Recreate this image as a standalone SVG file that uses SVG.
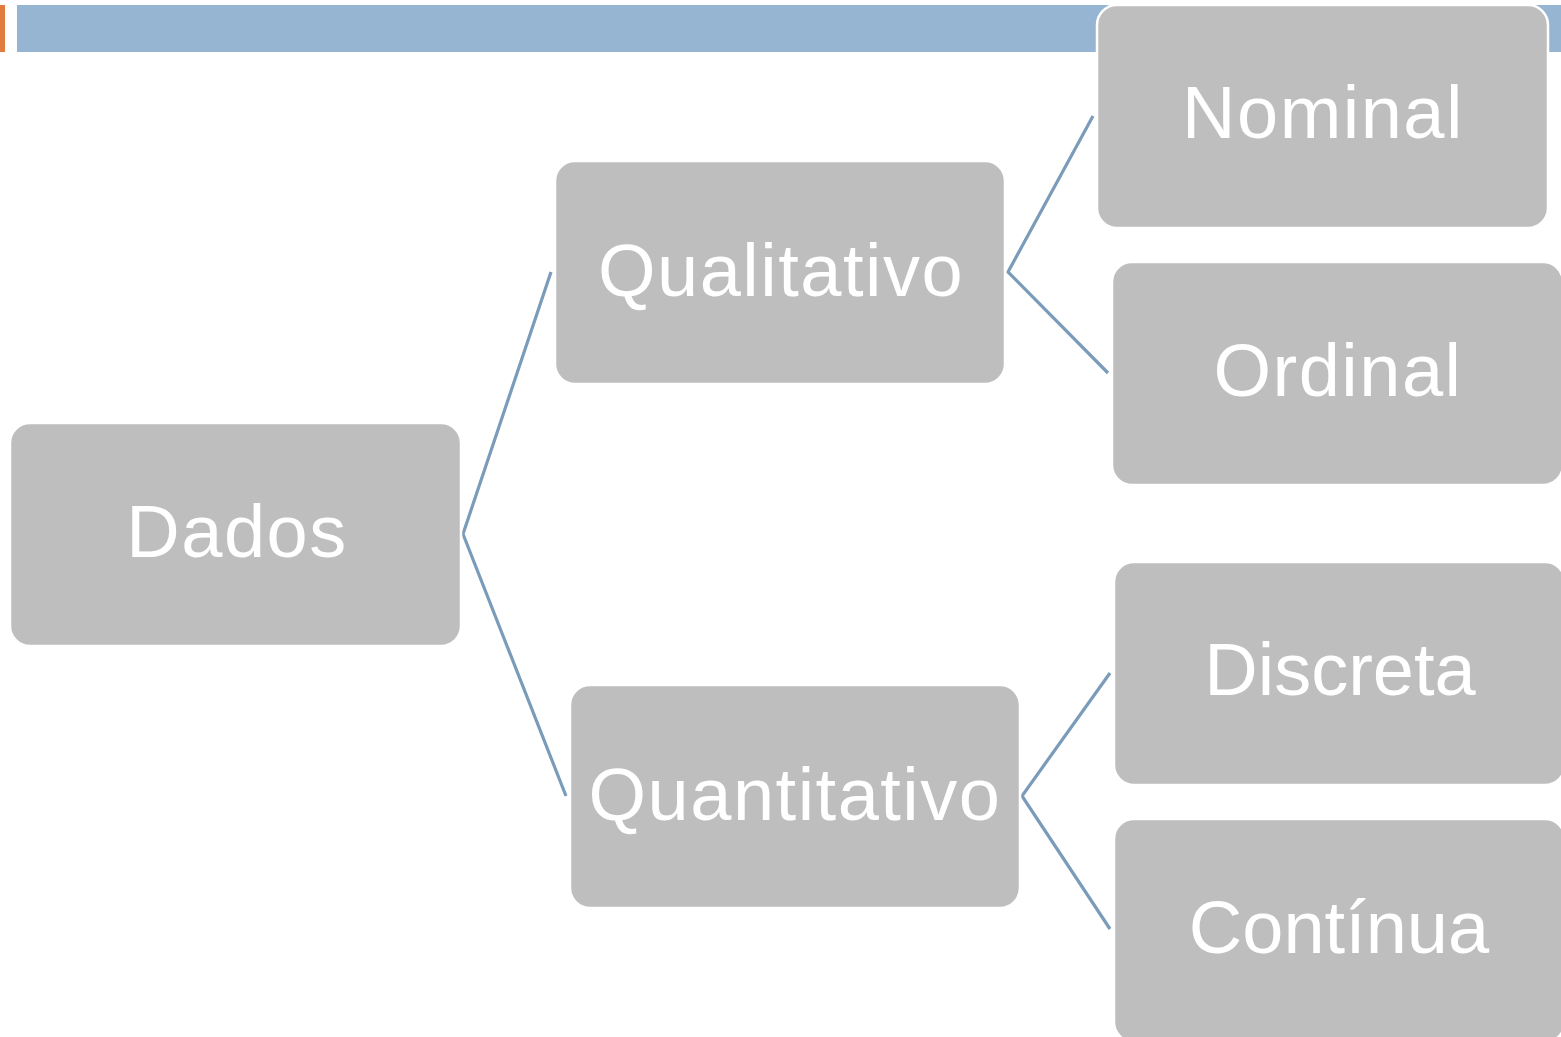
<svg xmlns="http://www.w3.org/2000/svg" width="1561" height="1037" viewBox="0 0 1561 1037">
<style>
.box{fill:#bebebe;stroke:#ffffff;stroke-width:2.5}
.lbl{fill:#ffffff;font-family:"Liberation Sans","Open Sans",sans-serif;font-size:74px;text-anchor:middle;letter-spacing:1.5px}
.tight{letter-spacing:0px}
.conn{stroke:#7a9bb9;stroke-width:3.2;fill:none}
</style>
<rect width="1561" height="1037" fill="#ffffff"/>
<rect x="0" y="5" width="5" height="47" fill="#e07c3e"/>
<rect x="17" y="5" width="1544" height="47" fill="#95b5d3"/>
<g id="connectors">
<polyline class="conn" points="551,272 463,534 566,796"/>
<polyline class="conn" points="1093,116 1008,272 1108,373"/>
<polyline class="conn" points="1110,673 1022,796 1110,929"/>
</g>
<g id="dados"><rect class="box" x="10" y="423" width="451" height="223" rx="20"/><text class="lbl" x="237" y="557">Dados</text></g>
<g id="qualitativo"><rect class="box" x="555" y="161" width="450" height="223" rx="20"/><text class="lbl" x="781" y="296">Qualitativo</text></g>
<g id="quantitativo"><rect class="box" x="570" y="685" width="450" height="223" rx="20"/><text class="lbl" x="795" y="820">Quantitativo</text></g>
<g id="nominal"><rect class="box" x="1097" y="5" width="451" height="223" rx="20"/><text class="lbl" x="1323" y="138">Nominal</text></g>
<g id="ordinal"><rect class="box" x="1112" y="262" width="451" height="223" rx="20"/><text class="lbl" x="1338" y="396">Ordinal</text></g>
<g id="discreta"><rect class="box" x="1114" y="562" width="451" height="223" rx="20"/><text class="lbl tight" x="1340" y="695">Discreta</text></g>
<g id="continua"><rect class="box" x="1114" y="819" width="451" height="223" rx="20"/><text class="lbl tight" x="1339" y="953">Contínua</text></g>
</svg>
